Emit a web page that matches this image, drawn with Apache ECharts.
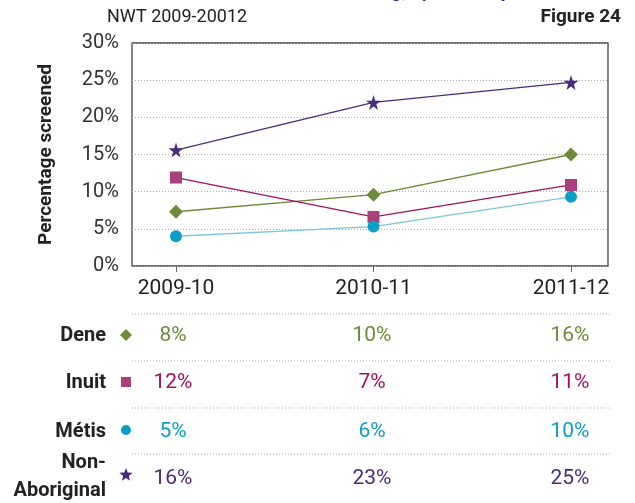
<!DOCTYPE html>
<html>
<head>
<meta charset="utf-8">
<script src="https://cdn.jsdelivr.net/npm/echarts@6/dist/echarts.min.js"></script>
<style>
html, body { margin: 0; padding: 0; background: #fff; }
#main { width: 635px; height: 503px; }
</style>
</head>
<body>
<div id="main"></div>
<script>
// categories and values
var years = ['2009-10', '2010-11', '2011-12'];
var groups = ['Dene', 'Inuit', 'Métis', 'Non-Aboriginal'];
var dene = [7.3, 9.6, 15.0];
var inuit = [11.9, 6.6, 10.9];
var metis = [4.0, 5.3, 9.3];
var nonAboriginal = [15.6, 22.0, 24.7];
// table underneath (as printed)
var deneTxt = ['8%', '10%', '16%'];
var inuitTxt = ['12%', '7%', '11%'];
var metisTxt = ['5%', '6%', '10%'];
var nonAbTxt = ['16%', '23%', '25%'];
var yTicks = [0, 5, 10, 15, 20, 25, 30];

var FONT = 'Roboto, "Liberation Sans", sans-serif';
var STAR = 'path://M50,0 L61,35 L98,35 L68,57 L79,91 L50,70 L21,91 L32,57 L2,35 L39,35 Z';

var colors = {
    dene: '#6f8a3a',
    inuitLine: '#a3125f', inuitMark: '#a9407a',
    metisLine: '#7cc6de', metisMark: '#0b9fc6',
    nonAb: '#4a2a7a'
};

var ele = document.getElementById('main');
var myChart = echarts.init(ele);

// table rows
var rows = [
    {name: ['Dene'], txt: deneTxt, color: colors.dene, mark: 'diamond', markColor: colors.dene, y: 336, my: 335},
    {name: ['Inuit'], txt: inuitTxt, color: colors.inuitLine, mark: 'rect', markColor: colors.inuitMark, y: 383, my: 382},
    {name: ['Métis'], txt: metisTxt, color: colors.metisMark, mark: 'circle', markColor: colors.metisMark, y: 432, my: 430},
    {name: ['Non-', 'Aboriginal'], txt: nonAbTxt, color: colors.nonAb, mark: 'star', markColor: colors.nonAb, y: 479, my: 475}
];
var colX = [173, 372, 570];
var lineY = [314, 361, 408, 454];

var graphics = [];
// top cut-off title
graphics.push({type: 'text', right: 125, top: -17, style: {text: 'Screening, by ethnicity', font: 'bold 19px ' + FONT, fill: '#4a2a7a'}});
graphics.push({type: 'text', left: 107, top: 8, style: {text: 'NWT 2009-20012', font: '18px ' + FONT, fill: '#222'}});
graphics.push({type: 'text', right: 14, top: 8, style: {text: 'Figure 24', font: 'bold 19px ' + FONT, fill: '#222'}});

lineY.forEach(function (y) {
    graphics.push({type: 'line', shape: {x1: 132, y1: y, x2: 612, y2: y},
        style: {stroke: '#aaa', lineWidth: 1, lineDash: [1, 2]}});
});

function markShape(type, cx, cy, color) {
    if (type === 'diamond') {
        return {type: 'polygon', shape: {points: [[cx, cy - 6], [cx + 6, cy], [cx, cy + 6], [cx - 6, cy]]}, style: {fill: color}};
    } else if (type === 'rect') {
        return {type: 'rect', shape: {x: cx - 5, y: cy - 5, width: 10, height: 10}, style: {fill: color}};
    } else if (type === 'circle') {
        return {type: 'circle', shape: {cx: cx, cy: cy, r: 5}, style: {fill: color}};
    }
    var pts = [];
    for (var i = 0; i < 10; i++) {
        var r = i % 2 === 0 ? 7 : 3;
        var a = -Math.PI / 2 + i * Math.PI / 5;
        pts.push([cx + r * Math.cos(a), cy + r * Math.sin(a)]);
    }
    return {type: 'polygon', shape: {points: pts}, style: {fill: color}};
}

rows.forEach(function (r) {
    var nameFont = 'bold 20px ' + FONT;
    if (r.name.length === 1) {
        graphics.push({type: 'text', x: 106, y: r.y, style: {text: r.name[0], font: nameFont, fill: '#222', align: 'right', verticalAlign: 'middle'}});
    } else {
        graphics.push({type: 'text', x: 106, y: 463, style: {text: r.name[0], font: nameFont, fill: '#222', align: 'right', verticalAlign: 'middle'}});
        graphics.push({type: 'text', x: 106, y: 491, style: {text: r.name[1], font: nameFont, fill: '#222', align: 'right', verticalAlign: 'middle'}});
    }
    graphics.push(markShape(r.mark, 126, r.my, r.markColor));
    r.txt.forEach(function (t, i) {
        graphics.push({type: 'text', x: colX[i], y: r.y, style: {text: t, font: '21px ' + FONT, fill: r.color, align: 'center', verticalAlign: 'middle'}});
    });
});

var option = {
    backgroundColor: '#fff',
    animation: false,
    textStyle: {fontFamily: FONT},
    grid: [
        {left: 132, top: 43, width: 476, height: 223, show: true, borderColor: '#444', borderWidth: 1.3, backgroundColor: 'transparent'},
        {left: 176, top: 43, width: 395, height: 223}
    ],
    xAxis: [
        {gridIndex: 0, type: 'value', show: false},
        {
            gridIndex: 1, type: 'category', data: years, boundaryGap: false,
            axisLine: {show: false},
            axisTick: {show: true, length: 6, lineStyle: {color: '#666'}},
            axisLabel: {fontSize: 21, color: '#222', margin: 12, fontFamily: FONT},
            splitLine: {show: false}
        }
    ],
    yAxis: [
        {
            gridIndex: 0, type: 'value', min: yTicks[0], max: yTicks[yTicks.length - 1], interval: 5,
            name: 'Percentage screened', nameLocation: 'middle', nameRotate: 90, nameGap: 76,
            nameTextStyle: {fontSize: 19, fontWeight: 'bold', color: '#222', fontFamily: FONT},
            axisLine: {show: false}, axisTick: {show: false},
            axisLabel: {formatter: '{value}%', fontSize: 20, color: '#333', margin: 13, fontFamily: FONT},
            splitLine: {show: true, lineStyle: {color: '#aaa', type: [1, 2]}}
        },
        {gridIndex: 1, type: 'value', min: 0, max: 30, show: false}
    ],
    series: [
        {name: groups[3], type: 'line', xAxisIndex: 1, yAxisIndex: 1, data: nonAboriginal,
            symbol: STAR, symbolSize: 15, lineStyle: {color: colors.nonAb, width: 1.3}, itemStyle: {color: colors.nonAb}},
        {name: groups[0], type: 'line', xAxisIndex: 1, yAxisIndex: 1, data: dene,
            symbol: 'diamond', symbolSize: 14, lineStyle: {color: colors.dene, width: 1.3}, itemStyle: {color: colors.dene}},
        {name: groups[1], type: 'line', xAxisIndex: 1, yAxisIndex: 1, data: inuit,
            symbol: 'rect', symbolSize: 12, lineStyle: {color: colors.inuitLine, width: 1.3}, itemStyle: {color: colors.inuitMark}},
        {name: groups[2], type: 'line', xAxisIndex: 1, yAxisIndex: 1, data: metis,
            symbol: 'circle', symbolSize: 12, lineStyle: {color: colors.metisLine, width: 1.3}, itemStyle: {color: colors.metisMark}}
    ],
    graphic: graphics
};
myChart.setOption(option);
</script>
</body>
</html>
